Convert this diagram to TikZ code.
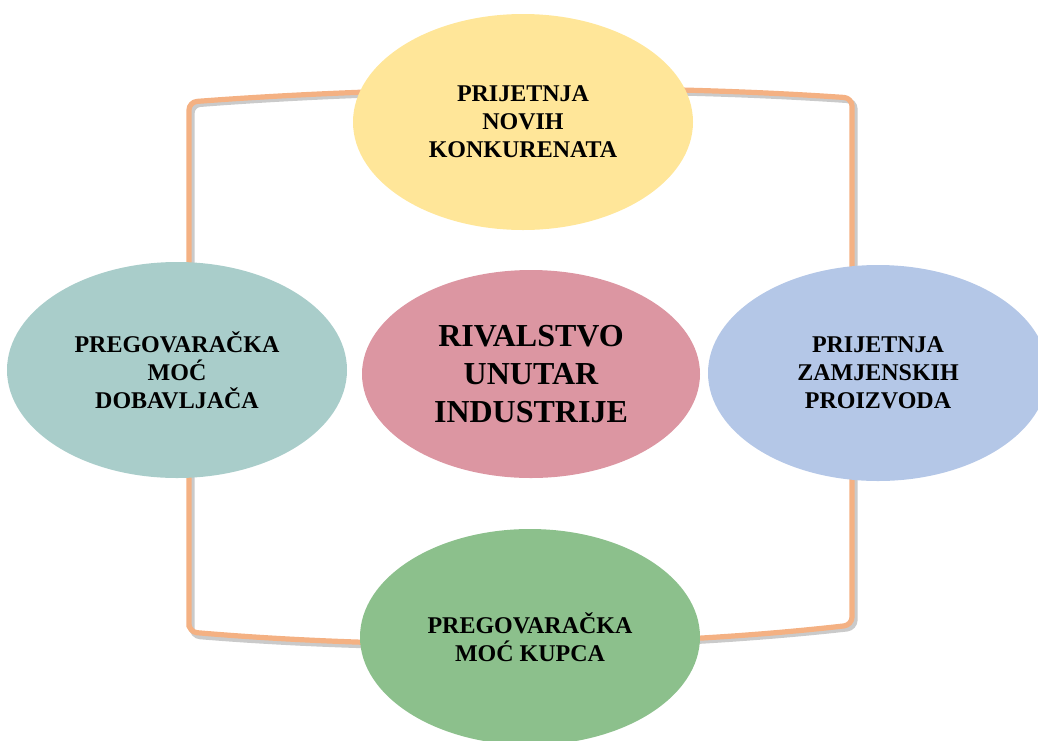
\documentclass[tikz,border=0pt]{standalone}
\usepackage{fontspec}
\setmainfont{Liberation Serif}
\usepackage{tikz}
\usetikzlibrary{shapes.geometric}

\definecolor{novi}{HTML}{FFE699}
\definecolor{dobav}{HTML}{A9CDCA}
\definecolor{rival}{HTML}{DC96A2}
\definecolor{zamj}{HTML}{B4C7E7}
\definecolor{kupac}{HTML}{8CC08C}
\definecolor{okvir}{HTML}{F4B183}

\begin{document}
\begin{tikzpicture}[
  x=0.5pt,y=-0.5pt,
  force/.style={ellipse,inner sep=0pt,minimum width=170pt,minimum height=108pt,align=center,
                font=\bfseries\fontsize{12}{14}\selectfont},
  core/.style={force,minimum width=169pt,minimum height=104pt,font=\bfseries\fontsize{16}{19}\selectfont},
  frame/.style={draw=okvir,line width=2.6pt,rounded corners=4pt},
  shade/.style={draw=black!35,line width=2.6pt,opacity=0.6,rounded corners=4pt}
]
\useasboundingbox (0,0) rectangle (1038,740);

% frame behind the ellipses
\draw[shade] (192,636) -- (192,105) .. controls (400,89) and (650,87) .. (855,101)
  -- (855,628) .. controls (650,651) and (400,653) .. cycle;
\draw[frame] (189,632) -- (189,102) .. controls (400,86) and (650,84) .. (852,98)
  -- (852,625) .. controls (650,648) and (400,650) .. cycle;

% the five forces
\node[force,fill=novi]  (novi)  at (523,122) {PRIJETNJA\\NOVIH\\KONKURENATA};
\node[force,fill=dobav] (dobav) at (177,370) {PREGOVARAČKA\\MOĆ\\DOBAVLJAČA};
\node[core,fill=rival]  (rival) at (531,374) {RIVALSTVO\\UNUTAR\\INDUSTRIJE};
\node[force,fill=zamj]  (zamj)  at (878,373) {PRIJETNJA\\ZAMJENSKIH\\PROIZVODA};
\node[force,fill=kupac] (kupac) at (530,637) {PREGOVARAČKA\\MOĆ KUPCA};
\end{tikzpicture}
\end{document}
